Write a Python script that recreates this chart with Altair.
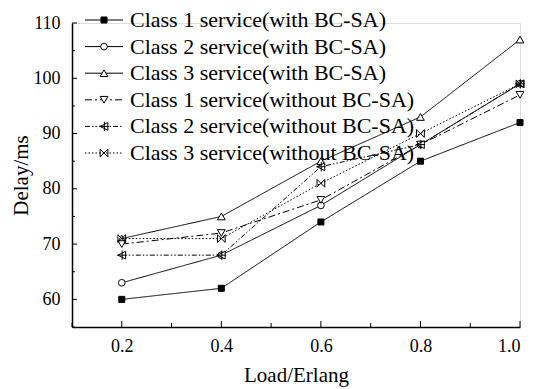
import altair as alt
import pandas as pd

loads = [0.2, 0.4, 0.6, 0.8, 1.0]
series_names = [
    "Class 1 service(with BC-SA)",
    "Class 2 service(with BC-SA)",
    "Class 3 service(with BC-SA)",
    "Class 1 service(without BC-SA)",
    "Class 2 service(without BC-SA)",
    "Class 3 service(without BC-SA)",
]
c1_with = [60, 62, 74, 85, 92]
c2_with = [63, 68, 77, 88, 99]
c3_with = [71, 75, 85, 93, 107]
c1_without = [70, 72, 78, 88, 97]
c2_without = [68, 68, 84, 88, 99]
c3_without = [71, 71, 81, 90, 99]
values = [c1_with, c2_with, c3_with, c1_without, c2_without, c3_without]

x_ticks = [0.2, 0.4, 0.6, 0.8, 1.0]
x_minor = [0.1, 0.3, 0.5, 0.7, 0.9]
y_ticks = [60, 70, 80, 90, 100, 110]
y_minor = [55, 65, 75, 85, 95, 105]

FONT = "Liberation Serif"
W, H = 448, 304

shapes = [
    "square",
    "circle",
    "triangle-up",
    "triangle-down",
    "M1,-1L-1,0L1,1Z M0.1,-1.2L0.1,1.2 M-1.2,0L1.2,0",
    "M-1,-1L1,1M-1,1L1,-1M-1,-1L-1,1M1,-1L1,1",
]
fills = ["black", "white", "white", "white", "white", "white"]
dashes = [[1, 0], [1, 0], [1, 0], [7, 3, 2, 3], [5, 2, 1.5, 2, 1.5, 2], [1.5, 2]]
sizes = [36, 45, 60, 60, 60, 60]

xs = alt.Scale(domain=[0.1, 1.0], nice=False, zero=False)
ys = alt.Scale(domain=[55, 110], nice=False, zero=False)

layers = []
for i, name in enumerate(series_names):
    df = pd.DataFrame({"load": loads, "delay": values[i], "series": name})
    base = alt.Chart(df)
    x = alt.X("load:Q", scale=xs, axis=alt.Axis(
        values=x_ticks, format=".1f", title="Load/Erlang", ticks=False, grid=False,
        domainColor="black", domainWidth=1.5, labelFont=FONT, labelFontSize=18,
        labelColor="black", labelPadding=10, titleFont=FONT, titleFontSize=21,
        titleFontWeight="normal", titleColor="black", titlePadding=9))
    y = alt.Y("delay:Q", scale=ys, axis=alt.Axis(
        values=y_ticks, title="Delay/ms", ticks=False, grid=False,
        domainColor="black", domainWidth=1.5, labelFont=FONT, labelFontSize=18,
        labelColor="black", labelPadding=12, titleFont=FONT, titleFontSize=21,
        titleFontWeight="normal", titleColor="black", titlePadding=2))
    layers.append(base.mark_line(color="black", strokeWidth=1, strokeDash=dashes[i]).encode(x=x, y=y))
    layers.append(base.mark_point(shape=shapes[i], filled=True, fill=fills[i], stroke="black",
                                  strokeWidth=1, opacity=1, size=sizes[i]).encode(x=x, y=y))

# inward ticks
tick_layers = []
tick_layers.append(alt.Chart(pd.DataFrame({"v": y_ticks})).mark_rule(color="black", strokeWidth=1).encode(
    y=alt.Y("v:Q", scale=ys), x=alt.value(0), x2=alt.value(5)))
tick_layers.append(alt.Chart(pd.DataFrame({"v": y_minor})).mark_rule(color="black", strokeWidth=1).encode(
    y=alt.Y("v:Q", scale=ys), x=alt.value(0), x2=alt.value(3)))
tick_layers.append(alt.Chart(pd.DataFrame({"v": x_ticks})).mark_rule(color="black", strokeWidth=1).encode(
    x=alt.X("v:Q", scale=xs), y=alt.value(H), y2=alt.value(H - 6)))
tick_layers.append(alt.Chart(pd.DataFrame({"v": x_minor})).mark_rule(color="black", strokeWidth=1).encode(
    x=alt.X("v:Q", scale=xs), y=alt.value(H), y2=alt.value(H - 4)))

# manual legend
leg = []
for i, name in enumerate(series_names):
    ry = -3 + i * 26.6
    d = alt.Chart(pd.DataFrame({"name": [name]}))
    leg.append(d.mark_rule(color="black", strokeWidth=1, strokeDash=dashes[i]).encode(
        x=alt.value(13), x2=alt.value(51), y=alt.value(ry)))
    leg.append(d.mark_point(shape=shapes[i], filled=True, fill=fills[i], stroke="black",
                            strokeWidth=1, opacity=1, size=sizes[i]).encode(
        x=alt.value(32), y=alt.value(ry)))
    leg.append(d.mark_text(align="left", baseline="middle", font=FONT, fontSize=22, color="black").encode(
        x=alt.value(58), y=alt.value(ry), text="name:N"))

chart = alt.layer(*layers, *tick_layers, *leg).properties(
    width=W, height=H,
    autosize=alt.AutoSizeParams(type="none"),
    padding={"left": 64, "top": 15, "right": 8, "bottom": 60},
).configure_view(stroke=None).configure_axis(
    titleFontWeight="normal"
).configure(background="white")

chart.save("out.html", embed_options={"renderer": "svg", "actions": False})
